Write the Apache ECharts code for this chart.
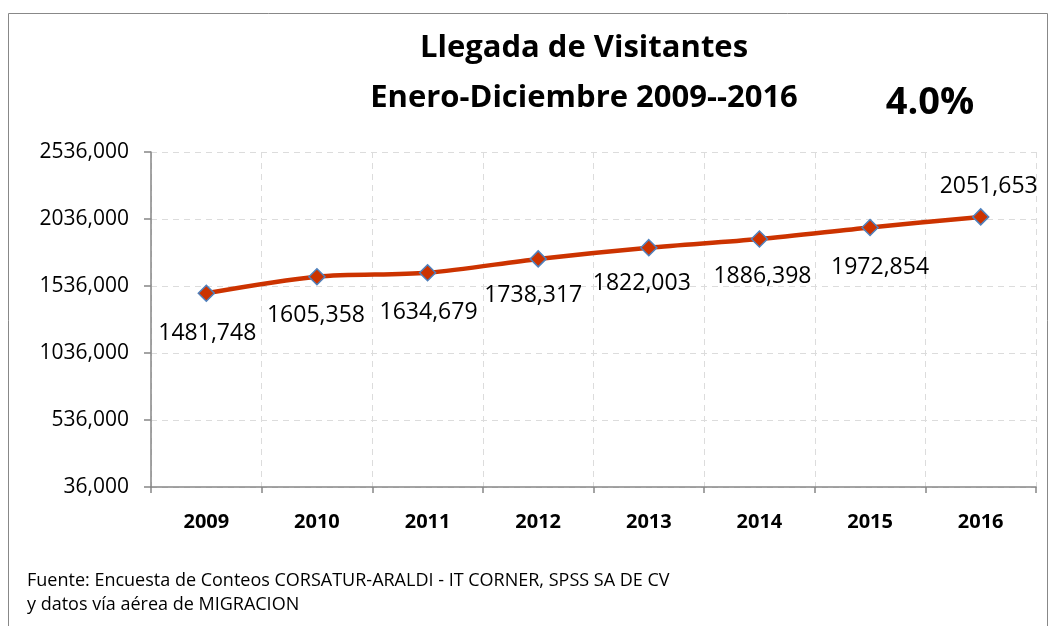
<!DOCTYPE html>
<html>
<head>
<meta charset="utf-8">
<script src="https://cdn.jsdelivr.net/npm/echarts@6/dist/echarts.min.js"></script>
<style>
html,body{margin:0;padding:0;background:#fff;}
#chart{width:1050px;height:626px;}
</style>
</head>
<body>
<div id="chart"></div>
<script>
const years = ['2009','2010','2011','2012','2013','2014','2015','2016'];
const visitors = [1481748, 1605358, 1634679, 1738317, 1822003, 1886398, 1972854, 2051653];
const titleLines = ['Llegada de Visitantes', 'Enero-Diciembre 2009--2016'];
const growthText = '4.0%';
const sourceLines = ['Fuente: Encuesta de Conteos CORSATUR-ARALDI - IT CORNER, SPSS SA DE CV', 'y datos vía aérea de MIGRACION'];
const yMin = 36000, yMax = 2536000, yStep = 500000;

// label placement (style only)
const labelOffsets = [[1,40],[-1,39],[1,40],[-5,37],[-7,36],[3,37],[10,40],[8,-30]];

function fmt(v){
  const th = Math.floor(v/1000);
  const r = Math.round(v - th*1000);
  return th + ',' + String(r).padStart(3,'0');
}

const FONT = '"Open Sans", sans-serif';
const chart = echarts.init(document.getElementById('chart'), null, {renderer:'canvas'});
chart.setOption({
  backgroundColor:'#ffffff',
  animation:false,
  grid:{left:151, right:14, top:152, bottom:139},
  title:[
    {text:titleLines.join('\n'), left:579, top:18, textAlign:'center',
     textStyle:{fontFamily:FONT, fontWeight:'bold', fontSize:31, color:'#000', lineHeight:50}},
    {text:growthText, left:925, top:79, textAlign:'center',
     textStyle:{fontFamily:FONT, fontWeight:'bold', fontSize:38, color:'#000', lineHeight:38}},
    {text:sourceLines.join('\n'), left:22, top:564,
     textStyle:{fontFamily:FONT, fontWeight:'normal', fontSize:18, color:'#000', lineHeight:24}}
  ],
  graphic:[
    {type:'polyline', shape:{points:[[8.5,640],[8.5,13.5],[1047.5,13.5],[1047.5,640]]},
     style:{stroke:'#888888', lineWidth:1, fill:null}, silent:true}
  ],
  xAxis:{
    type:'category', data:years, boundaryGap:true,
    axisLine:{lineStyle:{color:'#868686', width:1.5}},
    axisTick:{show:true, length:6, lineStyle:{color:'#868686', width:1.5}},
    axisLabel:{fontFamily:FONT, fontWeight:'bold', fontSize:20, color:'#000', margin:25},
    splitLine:{show:true, lineStyle:{color:'#dcdcdc', type:[6,5], width:1}}
  },
  yAxis:{
    type:'value', min:yMin, max:yMax, interval:yStep,
    axisLine:{show:true, lineStyle:{color:'#868686', width:1.5}},
    axisTick:{show:true, length:7, lineStyle:{color:'#868686', width:1.5}},
    axisLabel:{fontFamily:FONT, fontSize:21, color:'#000', margin:22, formatter:fmt},
    splitLine:{show:true, lineStyle:{color:'#dcdcdc', type:[6,5], width:1}}
  },
  series:[{
    type:'line', smooth:0.3,
    data: visitors.map((v,i)=>({value:v, label:{offset:labelOffsets[i]}})),
    symbol:'diamond', symbolSize:16,
    lineStyle:{color:'#cc3300', width:4.5},
    itemStyle:{color:'#cc3300', borderColor:'#4f81bd', borderWidth:1.5},
    label:{show:true, position:'inside', fontFamily:FONT, fontSize:23, color:'#000',
      formatter:p=>fmt(p.value)},
    z:3
  }]
});
</script>
</body>
</html>
